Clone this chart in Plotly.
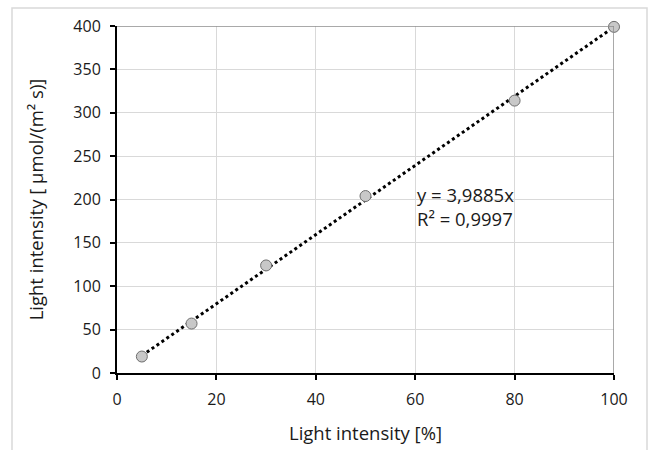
import plotly.graph_objects as go

x_percent = [5, 15, 30, 50, 80, 100]
y_umol = [19, 57, 124, 204, 314, 399]
trend_slope = 3.9885
trend_r2 = "0,9997"
trend_x = [5, 100]
trend_y = [trend_slope * v for v in trend_x]

FONT = "Open Sans"
TXT = "#1a1a1a"

fig = go.Figure()
fig.add_trace(go.Scatter(
    x=trend_x, y=trend_y, mode="lines",
    line=dict(color="black", width=3, dash="dot"),
    hoverinfo="skip", showlegend=False, cliponaxis=False))
fig.add_trace(go.Scatter(
    x=x_percent, y=y_umol, mode="markers",
    marker=dict(size=11, color="#c8c8c8", line=dict(color="#6e6e6e", width=1)),
    showlegend=False, cliponaxis=False))

fig.update_layout(
    width=650, height=450,
    margin=dict(l=117, r=36, t=26, b=77),
    paper_bgcolor="white", plot_bgcolor="white",
    font=dict(family=FONT, size=16, color=TXT),
    xaxis=dict(range=[0, 100], tickvals=[0, 20, 40, 60, 80, 100],
               showgrid=True, gridcolor="#d9d9d9", gridwidth=1,
               showline=True, linecolor="black", linewidth=2,
               ticks="outside", ticklen=5, tickcolor="black", tickwidth=2,
               zeroline=False, ticklabelstandoff=6, automargin=False,
               title=dict(text="Light intensity [%]", font=dict(size=18.5), standoff=18)),
    yaxis=dict(range=[0, 400], tickvals=[0, 50, 100, 150, 200, 250, 300, 350, 400],
               showgrid=True, gridcolor="#d9d9d9", gridwidth=1,
               showline=True, linecolor="black", linewidth=2,
               ticks="outside", ticklen=5, tickcolor="black", tickwidth=2,
               zeroline=False, ticklabelstandoff=6, automargin=False,
               title=dict(text="Light intensity [ µmol/(m² s)]", font=dict(size=18.5), standoff=25)),
    shapes=[
        dict(type="line", xref="x", yref="y", x0=0, x1=100, y0=400, y1=400,
             line=dict(color="#8c8c8c", width=1.5)),
        dict(type="line", xref="x", yref="y", x0=100, x1=100, y0=0, y1=400,
             line=dict(color="#8c8c8c", width=1.5)),
        dict(type="rect", xref="paper", yref="paper",
             x0=-105/497, x1=(647-117)/497, y0=-0.3, y1=(450-77-8)/347,
             line=dict(color="#d9d9d9", width=1.5), layer="below"),
    ],
    annotations=[
        dict(x=60, y=192, xref="x", yref="y", xanchor="left", yanchor="middle",
             text=f"y = {str(trend_slope).replace('.', ',')}x<br>R² = {trend_r2}",
             showarrow=False, align="left", font=dict(size=18.5, color=TXT)),
    ],
)

fig.write_html("out.html")
